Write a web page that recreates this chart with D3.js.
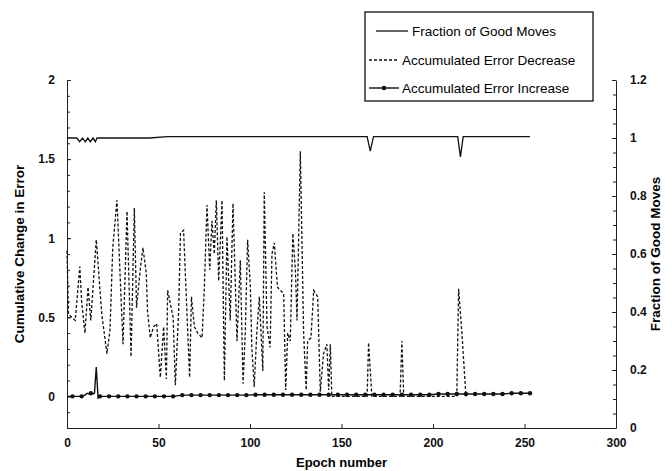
<!DOCTYPE html>
<html>
<head>
<meta charset="utf-8">
<script src="https://cdn.jsdelivr.net/npm/d3@7"></script>
<style>
  body { margin: 0; background: #fff; }
  svg { font-family: "Liberation Sans", Arial, sans-serif; }
  .tick text { font-weight: bold; font-size: 12px; fill: #111; }
  .domain, .tick line { stroke: #222; }
</style>
</head>
<body>
<div id="chart"></div>
<script>
// epochs / values
const fracEpoch = [0, 5.4, 6.9, 8.5, 10, 11.4, 12.7, 14.3, 15.5, 16.4, 45, 55, 164, 165.7, 167.5, 213.5, 215, 216.5, 253];
const fracValue = [1, 1, 0.987, 1, 0.987, 1, 0.987, 1, 0.987, 1, 1, 1.005, 1.005, 0.955, 1.005, 1.005, 0.935, 1.005, 1.005];

const decEpoch = [0, 0.8, 2.5, 4.5, 7, 8, 9.8, 11.5, 13, 16, 19, 21.8, 23.5, 25, 27.3, 30.6, 32.8, 35, 36.8, 38,
  40, 41.5, 43.3, 44, 45.5, 47.3, 49, 51, 52.8, 54.3, 55, 58, 59.2, 61, 62, 63.7, 67, 68, 69.6, 71.4,
  73.8, 75, 76.5, 78, 79.2, 80.5, 81.6, 82.9, 84.7, 86, 87.4, 89.2, 90.7, 92.9, 94.7, 96.2, 97.4, 98.7, 100.2, 101,
  102.3, 103.7, 105.1, 107, 107.8, 109.3, 111, 112, 113.3, 115, 116.6, 118.4, 119.5, 120.6, 122, 123.4, 124.8, 125.7, 127.5, 129.3,
  130.7, 131.5, 133.3, 134.8, 137, 138.4, 140.2, 142, 143, 143.9, 144.7, 164, 164.8, 166.6, 182, 183, 184, 213, 214, 215.8, 218];
const decValue = [0.92, 0.52, 0.5, 0.48, 0.82, 0.6, 0.4, 0.69, 0.48, 0.99, 0.52, 0.27, 0.42, 0.94, 1.24, 0.33, 1.17, 0.25, 1.19, 0.56,
  0.8, 0.94, 0.78, 0.54, 0.37, 0.44, 0.46, 0.12, 0.44, 0.11, 0.67, 0.5, 0.07, 0.54, 1.03, 1.05, 0.12, 0.63, 0.44, 0.4,
  0.37, 0.67, 1.21, 0.8, 1.11, 0.9, 1.24, 0.73, 1.24, 0.1, 1.01, 0.48, 1.22, 0.35, 0.86, 0.08, 0.4, 0.99, 0.69, 0.31,
  0.06, 0.4, 0.63, 0.16, 1.29, 0.44, 0.31, 0.9, 0.97, 0.69, 0.67, 0.65, 0.04, 0.4, 0.35, 1.03, 0.8, 0.48, 1.55, 0.4,
  0.04, 0.35, 0.37, 0.67, 0.63, 0.03, 0.27, 0.33, 0.04, 0.33, 0, 0, 0.34, 0, 0, 0.35, 0, 0, 0.68, 0.4, 0];

const incEpoch = [0, 3, 8, 10, 11, 12, 13, 14, 15, 16, 17, 18, 23, 28, 33, 38, 43, 48, 53, 58,
  63, 68, 73, 78, 83, 88, 93, 98, 103, 108, 113, 118, 123, 128, 133, 138, 143, 148, 153, 158,
  163, 168, 173, 178, 183, 188, 193, 198, 203, 208, 213, 218, 223, 228, 233, 238, 243, 248, 253];
const incValue = [0, 0, 0, 0.01, 0.02, 0.015, 0.02, 0.015, 0.02, 0.185, -0.01, 0, 0, 0, 0, 0, 0, 0, 0, 0,
  0.008, 0.008, 0.008, 0.008, 0.008, 0.008, 0.008, 0.008, 0.01, 0.01, 0.01, 0.01, 0.01, 0.01, 0.01, 0.01, 0.01, 0.01, 0.01, 0.01,
  0.01, 0.01, 0.01, 0.01, 0.01, 0.01, 0.01, 0.01, 0.015, 0.015, 0.015, 0.015, 0.015, 0.015, 0.015, 0.015, 0.02, 0.02, 0.02];

const xTicks = [0, 50, 100, 150, 200, 250, 300];
const yLeftTicks = [0, 0.5, 1, 1.5, 2];
const yRightTicks = [0, 0.2, 0.4, 0.6, 0.8, 1, 1.2];
const legendLabels = ["Fraction of Good Moves", "Accumulated Error Decrease", "Accumulated Error Increase"];

function drawChart() {
    const width = 672;
    const height = 471;
    const margin = { top: 80, bottom: 43, left: 67, right: 56 };
    const w = width - margin.left - margin.right;
    const h = height - margin.top - margin.bottom;

    const svg = d3.select("#chart")
        .append("svg")
        .attr("width", width)
        .attr("height", height);

    const g = svg.append("g")
        .attr("transform", `translate(${margin.left},${margin.top})`);

    const x = d3.scaleLinear().domain([0, 300]).range([0, w]);
    const yL = d3.scaleLinear().domain([-0.2, 2]).range([h, 0]);
    const yR = d3.scaleLinear().domain([0, 1.2]).range([h, 0]);

    // minor ticks
    g.append("g")
        .call(d3.axisLeft(yL).tickValues(d3.range(-2, 21).map(d => d / 10)).tickSize(-3).tickFormat(""))
        .call(s => s.select(".domain").remove());
    g.append("g")
        .attr("transform", `translate(${w},0)`)
        .call(d3.axisRight(yR).tickValues(d3.range(0, 25).map(d => d / 20)).tickSize(-3).tickFormat(""))
        .call(s => s.select(".domain").remove());

    // main axes
    g.append("g")
        .call(d3.axisLeft(yL).tickValues(yLeftTicks).tickSizeInner(-4).tickSizeOuter(0).tickPadding(12).tickFormat(d3.format("")));
    g.append("g")
        .attr("transform", `translate(${w},0)`)
        .call(d3.axisRight(yR).tickValues(yRightTicks).tickSizeInner(-4).tickSizeOuter(0).tickPadding(14).tickFormat(d3.format("")));
    g.append("g")
        .attr("transform", `translate(0,${h})`)
        .call(d3.axisBottom(x).tickValues(xTicks).tickSizeInner(-4).tickSizeOuter(0).tickPadding(10));

    // lines
    const decData = decEpoch.map((e, i) => ({ e: e, v: decValue[i] }));
    const incData = incEpoch.map((e, i) => ({ e: e, v: incValue[i] }));
    const fracData = fracEpoch.map((e, i) => ({ e: e, v: fracValue[i] }));

    g.append("path")
        .datum(decData)
        .attr("fill", "none")
        .attr("stroke", "#111")
        .attr("stroke-width", 1.3)
        .attr("stroke-dasharray", "3,2")
        .attr("d", d3.line().x(d => x(d.e)).y(d => yL(d.v)));

    g.append("path")
        .datum(incData)
        .attr("fill", "none")
        .attr("stroke", "#111")
        .attr("stroke-width", 1.4)
        .attr("d", d3.line().x(d => x(d.e)).y(d => yL(d.v)));

    g.selectAll(".mark")
        .data(incData.filter(d => d.e % 5 === 3))
        .enter()
        .append("circle")
        .attr("class", "mark")
        .attr("cx", d => x(d.e))
        .attr("cy", d => yL(d.v))
        .attr("r", 2.2)
        .attr("fill", "#111");

    g.append("path")
        .datum(fracData)
        .attr("fill", "none")
        .attr("stroke", "#111")
        .attr("stroke-width", 1.3)
        .attr("d", d3.line().x(d => x(d.e)).y(d => yR(d.v)));

    // axis titles
    svg.append("text")
        .attr("transform", `translate(24,${margin.top + h / 2}) rotate(-90)`)
        .attr("text-anchor", "middle")
        .style("font-size", "13.5px")
        .style("font-weight", "bold")
        .text("Cumulative Change in Error");

    svg.append("text")
        .attr("transform", `translate(660,${margin.top + h / 2}) rotate(-90)`)
        .attr("text-anchor", "middle")
        .style("font-size", "13.5px")
        .style("font-weight", "bold")
        .text("Fraction of Good Moves");

    svg.append("text")
        .attr("x", margin.left + w / 2)
        .attr("y", 467)
        .attr("text-anchor", "middle")
        .style("font-size", "13px")
        .style("font-weight", "bold")
        .text("Epoch number");

    // legend
    const lg = svg.append("g");
    lg.append("rect")
        .attr("x", 365).attr("y", 12)
        .attr("width", 228).attr("height", 89)
        .attr("fill", "#fff")
        .attr("stroke", "#111")
        .attr("stroke-width", 1.3);

    const rows = [31, 60, 88];
    lg.append("line").attr("x1", 376).attr("x2", 408).attr("y1", rows[0]).attr("y2", rows[0])
        .attr("stroke", "#111").attr("stroke-width", 1.3);
    lg.append("line").attr("x1", 369).attr("x2", 399).attr("y1", rows[1]).attr("y2", rows[1])
        .attr("stroke", "#111").attr("stroke-width", 1.3).attr("stroke-dasharray", "3,2");
    lg.append("line").attr("x1", 369).attr("x2", 399).attr("y1", rows[2]).attr("y2", rows[2])
        .attr("stroke", "#111").attr("stroke-width", 1.4);
    lg.append("circle").attr("cx", 384).attr("cy", rows[2]).attr("r", 2.2).attr("fill", "#111");

    lg.selectAll(".lt")
        .data(legendLabels)
        .enter()
        .append("text")
        .attr("class", "lt")
        .attr("x", (d, i) => i === 0 ? 412 : 402)
        .attr("y", (d, i) => rows[i])
        .attr("dy", "0.35em")
        .style("font-size", "13.5px")
        .text(d => d);
}

document.addEventListener("DOMContentLoaded", function(event) {
    drawChart();
});
</script>
</body>
</html>
